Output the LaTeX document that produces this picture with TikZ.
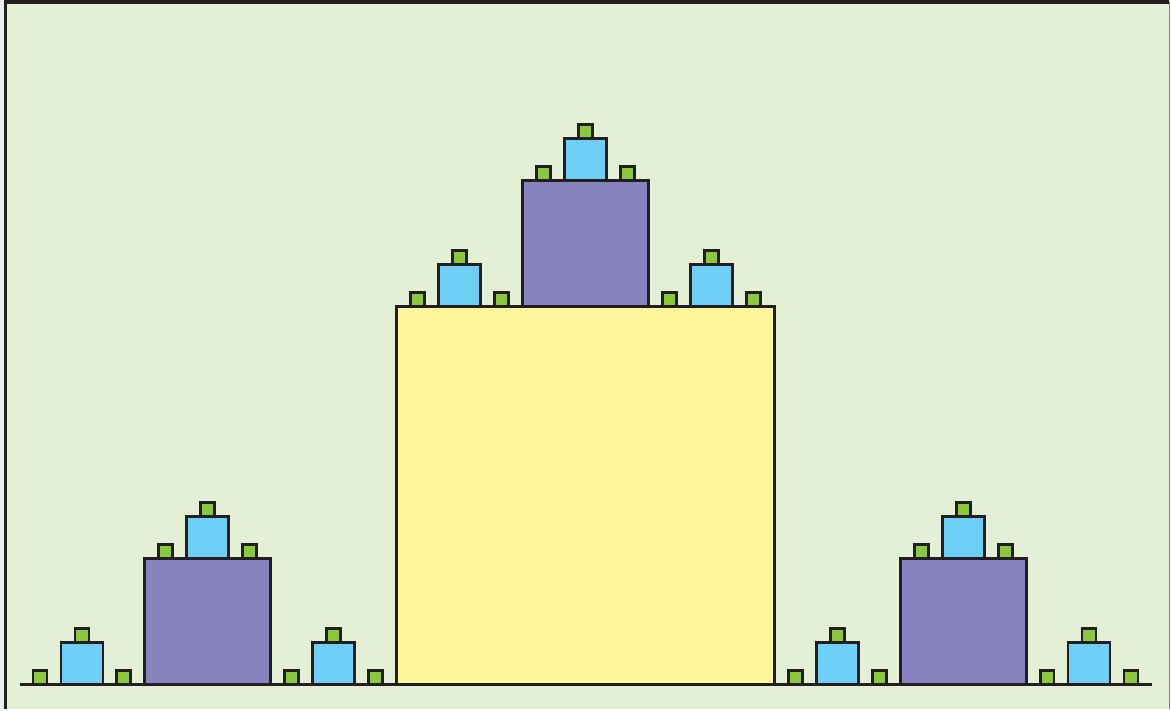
\documentclass[tikz,border=0pt]{standalone}
\definecolor{bgpale}{RGB}{232,238,239}
\definecolor{bggreen}{RGB}{227,240,214}
\definecolor{inkdark}{RGB}{35,31,32}
\definecolor{sqyellow}{RGB}{255,246,155}
\definecolor{sqpurple}{RGB}{136,130,190}
\definecolor{sqblue}{RGB}{109,207,246}
\definecolor{sqgreen}{RGB}{141,198,63}
\usetikzlibrary{calc}

\tikzset{
  sq/.style={draw=inkdark,line width=2.4pt,line join=miter},
  tower0/.style={sq,fill=sqyellow},
  tower1/.style={sq,fill=sqpurple},
  tower2/.style={sq,fill=sqblue},
  tower3/.style={sq,fill=sqgreen}
}

% left x, base y, side, level
\newcommand\fractower[4]{%
  \draw[tower#4] (#1,#2) rectangle ++(#3,#3);
  \ifnum#4<3
    \begingroup
      \pgfmathsetmacro\tthird{#3/3}%
      \pgfmathsetmacro\tleft{#1-2*\tthird}%
      \pgfmathsetmacro\tright{#1+#3+\tthird}%
      \pgfmathsetmacro\tmid{#1+\tthird}%
      \pgfmathsetmacro\ttop{#2+#3}%
      \pgfmathtruncatemacro\tnext{#4+1}%
      \edef\tcalls{%
        \noexpand\fractower{\tleft}{#2}{\tthird}{\tnext}%
        \noexpand\fractower{\tright}{#2}{\tthird}{\tnext}%
        \noexpand\fractower{\tmid}{\ttop}{\tthird}{\tnext}}%
      \tcalls
    \endgroup
  \fi
}

\begin{document}
\begin{tikzpicture}[x=0.03cm,y=0.03cm]
  % background and frame
  \fill[bgpale] (0,0) rectangle (1171,710);
  \fill[bggreen] (5.5,0) rectangle (1170.5,708);
  \draw[inkdark,line width=2.6pt] (5.5,0) -- (5.5,708) -- (1170.5,708);
  \draw[gray,line width=0.8pt] (1170.5,0) -- (1170.5,708);
  % ground line
  \coordinate (gl) at (20,25);
  \coordinate (gr) at (1153,25);
  \draw[inkdark,line width=2.4pt] (gl) -- (gr);
  % squares
  \fractower{397}{25}{378}{0}
\end{tikzpicture}
\end{document}
